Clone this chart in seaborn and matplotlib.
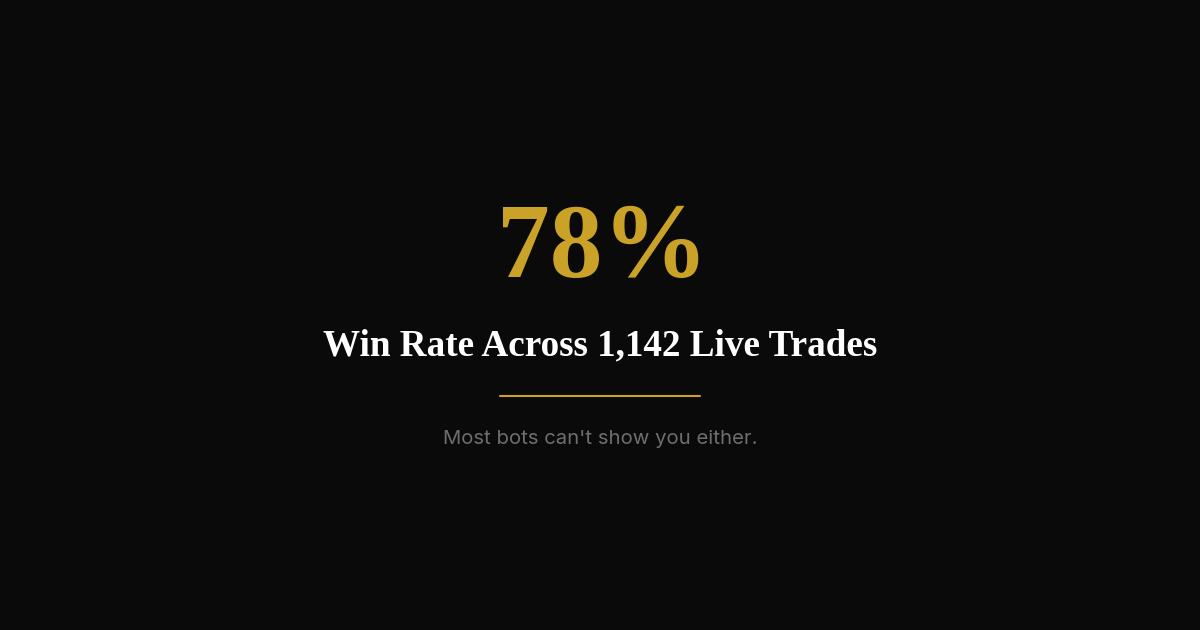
import matplotlib
matplotlib.use("Agg")
import matplotlib.pyplot as plt
import seaborn as sns

# card content
win_rate = 78
trade_count = 1142
headline = f"Win Rate Across {trade_count:,} Live Trades"
subtitle = "Most bots can't show you either."

BG = "#0a0a0a"
GOLD = "#c9a227"

sns.set_theme(style="dark", rc={"axes.facecolor": BG, "figure.facecolor": BG})

fig = plt.figure(figsize=(12, 6.3), dpi=100)
ax = fig.add_axes([0, 0, 1, 1])
ax.set_xlim(0, 1200)
ax.set_ylim(630, 0)
ax.axis("off")

ax.text(603, 277, f"{win_rate}%", ha="center", va="baseline",
        fontsize=76, fontweight="bold", color=GOLD,
        family=["Liberation Serif", "DejaVu Serif"])
ax.text(600, 355, headline, ha="center", va="baseline",
        fontsize=26.7, fontweight="bold", color="white",
        family=["Liberation Serif", "DejaVu Serif"])
ax.axhline(396, xmin=500 / 1200, xmax=700 / 1200, color=GOLD, lw=1.5)
ax.text(600, 444, subtitle, ha="center", va="baseline",
        fontsize=14.6, color="#6e6e6e", family=["Inter", "DejaVu Sans"])

fig.savefig("out.png", dpi=100, facecolor=BG)
